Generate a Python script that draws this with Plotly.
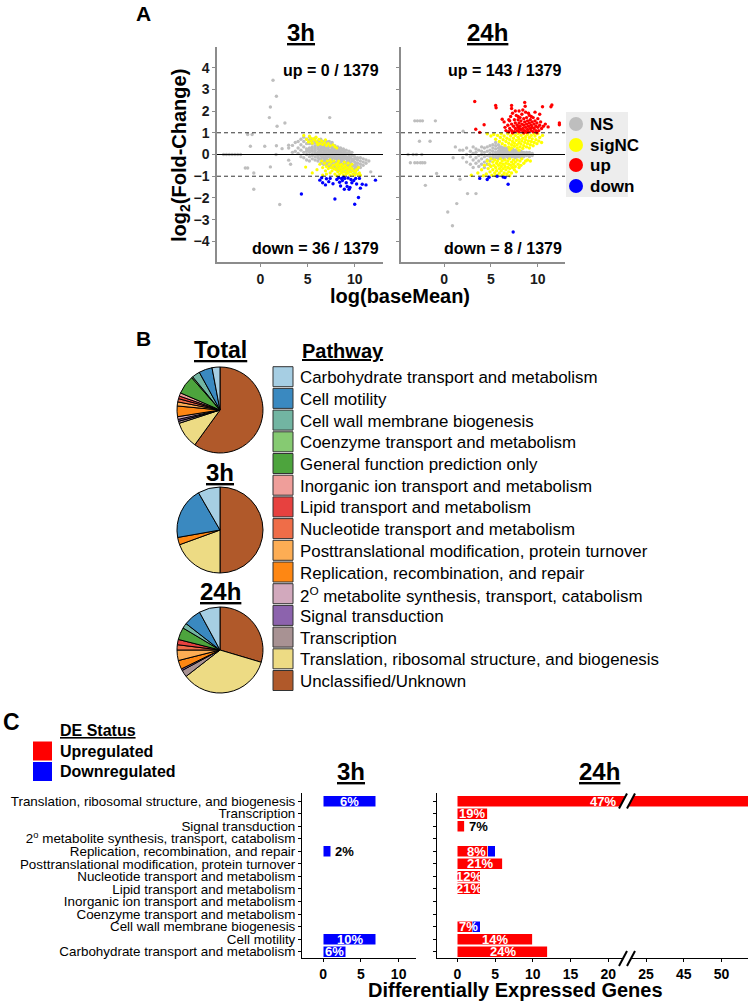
import plotly.graph_objects as go

W, H = 750, 1005
FONT = "Liberation Sans, Arial, sans-serif"


def PX(x):
    return x / W


def PY(y):
    return 1 - y / H


# ---------------- Panel A data (log(baseMean), log2 fold-change) ----------------
n_genes = 1379
up_3h_n, down_3h_n = 0, 36
up_24h_n, down_24h_n = 143, 8

ns3_cloud = {
    3.0: [-0.26, 0.3], 3.4: [0.42, 0.1], 3.7: [0.15, 0.55], 4.0: [0.05, 0.3, 0.6],
    4.3: [-0.1, 0.2, 0.45, 0.7], 4.6: [-0.15, 0.1, 0.35, 0.6, 0.8],
    4.9: [-0.25, 0.0, 0.15, 0.25, 0.5, 0.7],
    5.2: [-0.3, -0.1, 0.1, 0.2, 0.3, 0.5, 0.65, 0.8],
    5.5: [-0.2, -0.05, 0.0, 0.15, 0.25, 0.35, 0.5, 0.6, 0.7],
    5.8: [-0.25, -0.1, 0.05, 0.1, 0.2, 0.3, 0.4, 0.55, 0.75],
    6.1: [-0.3, -0.15, -0.05, 0.0, 0.05, 0.1, 0.25, 0.35, 0.45, 0.6],
    6.25: [-0.2, 0.0, 0.2, 0.4, 0.55],
    6.4: [-0.4, -0.2, -0.05, 0.0, 0.1, 0.15, 0.2, 0.3, 0.45, 0.55, 0.7],
    6.55: [-0.3, -0.1, 0.05, 0.25, 0.4, 0.6],
    6.7: [-0.45, -0.3, -0.15, -0.05, 0.0, 0.1, 0.2, 0.25, 0.35, 0.5, 0.6],
    6.85: [-0.4, -0.2, 0.0, 0.15, 0.3, 0.45],
    7.0: [-0.5, -0.35, -0.25, -0.2, -0.1, 0.0, 0.05, 0.1, 0.2, 0.3, 0.45, 0.6],
    7.15: [-0.45, -0.3, -0.1, 0.05, 0.25, 0.4, 0.55],
    7.3: [-0.55, -0.4, -0.25, -0.1, -0.05, 0.0, 0.1, 0.15, 0.2, 0.35, 0.5, 0.6],
    7.45: [-0.5, -0.3, -0.15, 0.0, 0.2, 0.4],
    7.6: [-0.6, -0.45, -0.3, -0.2, -0.15, -0.05, 0.05, 0.1, 0.15, 0.3, 0.45, 0.55],
    7.75: [-0.55, -0.35, -0.1, 0.05, 0.2, 0.35],
    7.9: [-0.65, -0.5, -0.35, -0.2, -0.1, -0.05, 0.0, 0.1, 0.15, 0.25, 0.4],
    8.05: [-0.6, -0.4, -0.2, 0.0, 0.15, 0.3],
    8.2: [-0.7, -0.5, -0.35, -0.25, -0.15, -0.1, 0.0, 0.05, 0.1, 0.2, 0.35],
    8.35: [-0.6, -0.45, -0.25, -0.05, 0.1, 0.25],
    8.5: [-0.75, -0.55, -0.4, -0.3, -0.2, -0.15, -0.05, 0.05, 0.15, 0.3],
    8.65: [-0.65, -0.5, -0.3, -0.1, 0.05, 0.2],
    8.8: [-0.8, -0.6, -0.45, -0.3, -0.2, -0.1, 0.0, 0.1, 0.25],
    8.95: [-0.7, -0.5, -0.35, -0.15, 0.0, 0.15],
    9.1: [-0.85, -0.6, -0.45, -0.35, -0.2, -0.1, 0.05, 0.2],
    9.25: [-0.7, -0.55, -0.3, -0.15, 0.05],
    9.4: [-0.8, -0.65, -0.5, -0.35, -0.25, -0.1, 0.0, 0.15],
    9.55: [-0.7, -0.4, -0.15, 0.05],
    9.7: [-0.75, -0.6, -0.45, -0.3, -0.2, -0.05, 0.1],
    9.85: [-0.7, -0.5, -0.25, -0.05],
    10.0: [-0.85, -0.65, -0.5, -0.35, -0.2, -0.1],
    10.15: [-0.6, -0.4, -0.2],
    10.3: [-0.7, -0.55, -0.4, -0.25, -0.15],
    10.6: [-0.6, -0.45, -0.3, -0.15],
    10.9: [-0.5, -0.35, -0.2], 11.2: [-0.4, -0.25], 11.5: [-0.3], 11.7: [-0.8],
}
ns3_outliers = [
    (1.34, 3.42), (1.7, 2.68), (1.06, 2.19), (0.95, 1.7), (1.77, 1.3), (2.6, 1.45),
    (7.35, 1.7), (-1.35, 0.92), (-0.88, 0.92), (-3.9, 0.0), (-3.6, 0.0), (-3.3, 0.0),
    (-3.0, 0.0), (-2.7, 0.0), (-2.4, 0.0), (-2.1, 0.0), (-1.6, -0.62), (-1.35, -0.62),
    (-0.7, -0.85), (-0.7, -1.6), (2.05, -2.3), (-1.06, 0.38), (0.46, 0.38),
    (1.06, -0.57), (1.7, 0.4), (2.3, 0.27), (3.0, 0.43), (1.66, 0.0), (3.2, -0.45),
]
sig3 = [
    (4.6, 0.88), (4.9, 0.7), (5.1, 0.58), (5.3, 0.77), (5.4, 0.62), (5.6, 0.72),
    (5.8, 0.66), (5.9, 0.8), (6.0, 0.56), (6.2, 0.7), (6.3, 0.5), (6.5, 0.62),
    (6.6, 0.46), (6.8, 0.55), (7.0, 0.42), (7.2, 0.5), (7.4, 0.4), (7.7, 0.45),
    (5.5, 0.52), (6.1, 0.45), (6.9, 0.68), (5.2, 0.85), (7.9, 0.36), (8.1, 0.3),
    (4.8, -0.58), (5.5, -0.85), (6.0, -0.7), (6.3, -0.45), (6.5, -0.3), (6.6, -0.6),
    (6.8, -0.4), (6.9, -0.75), (7.0, -0.55), (7.1, -0.3), (7.2, -0.65), (7.3, -0.45),
    (7.4, -0.85), (7.5, -0.35), (7.5, -0.6), (7.6, -0.75), (7.7, -0.5), (7.8, -0.3),
    (7.8, -0.65), (7.9, -0.9), (8.0, -0.45), (8.0, -0.7), (8.1, -0.55), (8.2, -0.8),
    (8.2, -0.4), (8.3, -0.65), (8.4, -0.5), (8.4, -0.9), (8.5, -0.75), (8.5, -0.6),
    (8.6, -0.45), (8.6, -0.85), (8.7, -0.7), (8.8, -0.55), (8.8, -0.95), (8.9, -0.8),
    (9.0, -0.65), (9.0, -0.5), (9.1, -0.9), (9.2, -0.75), (9.2, -0.6), (9.3, -0.85),
    (9.4, -0.7), (9.5, -0.95), (9.5, -0.55), (9.6, -0.8), (9.7, -0.65), (9.8, -0.9),
    (9.9, -0.75), (10.0, -0.95), (10.1, -0.8), (10.2, -0.7), (10.3, -0.9), (10.5, -0.85),
    (10.6, -0.95), (8.3, -0.3), (8.9, -0.35), (9.3, -0.4), (7.4, -0.25), (7.0, -0.9),
    (6.6, -0.95), (8.1, -0.98), (9.7, -0.45), (10.4, -0.6),
]
down3 = [
    (4.35, -1.82), (6.3, -1.18), (6.5, -1.07), (6.9, -1.4), (7.25, -1.25), (7.4, -1.1),
    (7.9, -2.05), (8.1, -1.15), (8.3, -1.07), (8.4, -1.28), (8.6, -1.1), (8.7, -1.2),
    (8.8, -1.05), (8.9, -1.6), (8.95, -1.1), (9.1, -1.3), (9.2, -1.47), (9.3, -1.08),
    (9.4, -1.6), (9.5, -1.52), (9.6, -1.15), (9.7, -1.3), (10.0, -2.29), (10.1, -1.1),
    (10.2, -1.36), (10.4, -1.98), (10.5, -1.1), (10.8, -1.37), (11.2, -1.4), (12.2, -1.18),
    (7.0, -1.12), (7.7, -1.35), (8.5, -1.45), (9.9, -1.2), (10.6, -1.55), (6.6, -1.3),
]

ns24_cloud = {
    2.0: [0.2, -0.15], 2.4: [0.0, -0.35, 0.3], 2.8: [-0.1, 0.15, -0.45],
    3.1: [-0.25, 0.05, 0.35, -0.6], 3.4: [-0.15, 0.1, -0.4, 0.25],
    3.7: [-0.3, -0.05, 0.2, -0.55], 4.0: [-0.2, 0.0, 0.15, -0.45, 0.35],
    4.3: [-0.35, -0.1, 0.1, 0.3, -0.6], 4.6: [-0.25, -0.05, 0.15, 0.35, -0.45],
    4.9: [-0.3, -0.1, 0.05, 0.2, 0.4, -0.5], 5.2: [-0.2, 0.0, 0.15, 0.3, 0.45, -0.1],
    5.5: [-0.15, 0.0, 0.1, 0.25, 0.4, 0.55, -0.05],
    5.8: [-0.1, 0.05, 0.15, 0.3, 0.45, 0.0, -0.2],
    5.95: [-0.05, 0.1, 0.2, 0.35],
    6.1: [-0.15, 0.0, 0.1, 0.2, 0.35, 0.05, -0.05, 0.25],
    6.25: [-0.1, 0.05, 0.15, 0.3],
    6.4: [-0.1, 0.0, 0.1, 0.2, 0.3, 0.15, -0.2, 0.05],
    6.55: [-0.05, 0.05, 0.2, 0.25],
    6.7: [-0.1, 0.0, 0.1, 0.2, 0.3, -0.05, 0.15, 0.05],
    6.85: [-0.15, 0.0, 0.1, 0.25],
    7.0: [-0.1, 0.0, 0.1, 0.2, 0.25, -0.05, 0.15, 0.05],
    7.15: [-0.1, 0.05, 0.15, 0.2],
    7.3: [-0.1, 0.0, 0.1, 0.2, -0.05, 0.15, 0.05, 0.25],
    7.45: [-0.05, 0.05, 0.1, 0.2],
    7.6: [-0.15, -0.05, 0.05, 0.15, 0.2, 0.0, 0.1],
    7.75: [-0.1, 0.0, 0.1, 0.15],
    7.9: [-0.1, 0.0, 0.1, 0.15, -0.05, 0.05],
    8.05: [-0.05, 0.05, 0.1],
    8.2: [-0.15, -0.05, 0.05, 0.15, 0.0, 0.1],
    8.35: [-0.1, 0.0, 0.1],
    8.5: [-0.1, 0.0, 0.1, 0.05, -0.05],
    8.8: [-0.05, 0.05, 0.1, 0.0], 9.1: [-0.1, 0.0, 0.1], 9.4: [0.05, -0.05],
}
ns24_outliers = [
    (-3.13, 1.55), (-2.85, 1.55), (-2.56, 1.55), (-2.31, 1.55), (-0.93, 1.55),
    (-2.63, 0.61), (-1.5, 0.61), (-3.84, 0.0), (-3.3, 0.0), (-2.95, 0.0), (-2.38, 0.0),
    (-3.6, -0.38), (-3.13, -0.38), (-2.85, -0.38), (-2.53, -0.38), (-2.31, -0.38),
    (-2.06, -0.38), (-0.8, -0.87), (-2.0, -1.42), (2.03, 1.07), (1.67, 0.2),
    (0.96, -0.15), (1.7, -1.14), (2.5, -1.8), (3.4, -1.8), (1.35, -2.26),
    (0.39, -2.65), (0.89, -3.28), (1.2, 0.35),
]
sig24 = [
    (4.6, 0.95), (5.0, 0.85), (5.3, 0.92), (5.5, 0.7), (5.7, 0.88), (5.9, 0.6),
    (6.0, 0.78), (6.1, 0.95), (6.2, 0.5), (6.3, 0.68), (6.4, 0.85), (6.5, 0.42),
    (6.6, 0.6), (6.7, 0.75), (6.8, 0.95), (6.9, 0.35), (6.9, 0.52), (7.0, 0.68),
    (7.1, 0.85), (7.2, 0.3), (7.2, 0.45), (7.3, 0.6), (7.3, 0.95), (7.4, 0.75),
    (7.5, 0.38), (7.5, 0.52), (7.6, 0.88), (7.7, 0.65), (7.8, 0.3), (7.8, 0.45),
    (7.9, 0.8), (7.9, 0.97), (8.0, 0.55), (8.0, 0.7), (8.1, 0.35), (8.2, 0.88),
    (8.2, 0.48), (8.3, 0.62), (8.4, 0.75), (8.4, 0.28), (8.5, 0.95), (8.5, 0.4),
    (8.6, 0.55), (8.7, 0.82), (8.7, 0.68), (8.8, 0.35), (8.9, 0.5), (8.9, 0.92),
    (9.0, 0.62), (9.1, 0.78), (9.1, 0.3), (9.2, 0.45), (9.3, 0.88), (9.3, 0.6),
    (9.4, 0.72), (9.5, 0.4), (9.6, 0.55), (9.7, 0.85), (9.8, 0.68), (9.9, 0.5),
    (10.0, 0.95), (10.1, 0.62), (10.2, 0.78), (10.4, 0.55), (10.5, 0.88), (9.6, 0.97),
    (8.0, 0.2), (7.0, 0.22),
    (2.9, -0.95), (3.6, -0.85), (4.0, -0.7), (4.3, -0.5), (4.5, -0.9), (4.6, -0.3),
    (4.7, -0.65), (4.8, -0.45), (4.9, -0.8), (5.0, -0.2), (5.0, -0.55), (5.1, -0.95),
    (5.2, -0.35), (5.2, -0.7), (5.3, -0.5), (5.4, -0.85), (5.4, -0.25), (5.5, -0.6),
    (5.6, -0.4), (5.6, -0.75), (5.7, -0.95), (5.7, -0.3), (5.8, -0.5), (5.9, -0.65),
    (5.9, -0.85), (6.0, -0.2), (6.0, -0.4), (6.1, -0.55), (6.1, -0.75), (6.2, -0.95),
    (6.2, -0.3), (6.3, -0.65), (6.3, -0.45), (6.4, -0.85), (6.5, -0.25), (6.5, -0.55),
    (6.6, -0.7), (6.6, -0.4), (6.7, -0.9), (6.8, -0.3), (6.8, -0.6), (6.9, -0.45),
    (6.9, -0.8), (7.0, -0.2), (7.0, -0.65), (7.1, -0.5), (7.2, -0.35), (7.2, -0.85),
    (7.3, -0.6), (7.4, -0.25), (7.4, -0.45), (7.5, -0.7), (7.6, -0.35), (7.6, -0.55),
    (7.7, -0.8), (7.8, -0.25), (7.9, -0.45), (8.0, -0.6), (8.1, -0.3), (8.2, -0.5),
    (8.3, -0.2), (8.5, -0.4), (8.7, -0.3), (8.9, -0.25), (9.2, -0.3), (6.4, -0.98),
    (5.5, -0.98), (7.0, -0.98), (4.2, -0.98),
]
up24 = [
    (3.27, 2.44), (3.38, 1.16), (3.8, 1.02), (4.27, 1.37), (5.5, 2.26), (5.55, 2.15),
    (7.2, 2.26), (7.2, 2.12), (8.6, 2.4), (8.65, 2.22), (10.5, 2.2), (11.4, 2.2),
    (11.5, 2.28), (12.3, 1.37), (12.3, 1.45), (11.1, 1.27),
    (6.2, 1.62), (6.4, 1.5), (6.5, 1.25), (6.6, 1.1), (6.8, 1.35), (6.9, 1.05),
    (7.0, 1.2), (7.0, 1.55), (7.1, 1.75), (7.2, 1.4), (7.2, 1.1), (7.3, 1.9),
    (7.4, 1.3), (7.5, 1.6), (7.5, 1.05), (7.6, 1.45), (7.6, 1.2), (7.7, 1.8),
    (7.8, 1.35), (7.8, 1.1), (7.9, 1.6), (7.9, 1.25), (8.0, 2.0), (8.0, 1.45),
    (8.0, 1.05), (8.1, 1.7), (8.1, 1.3), (8.2, 1.15), (8.2, 1.55), (8.3, 1.85),
    (8.3, 1.4), (8.4, 1.2), (8.4, 1.05), (8.5, 1.65), (8.5, 1.35), (8.6, 1.5),
    (8.6, 1.1), (8.7, 1.95), (8.7, 1.25), (8.8, 1.4), (8.8, 1.7), (8.9, 1.15),
    (8.9, 1.55), (9.0, 1.3), (9.0, 1.05), (9.1, 1.8), (9.1, 1.45), (9.2, 1.2),
    (9.2, 1.6), (9.3, 1.35), (9.3, 1.1), (9.4, 1.5), (9.4, 1.25), (9.5, 1.7),
    (9.5, 1.05), (9.6, 1.4), (9.6, 1.2), (9.7, 1.55), (9.8, 1.3), (9.8, 1.1),
    (9.9, 1.45), (10.0, 1.25), (10.0, 1.65), (10.1, 1.1), (10.2, 1.35), (10.3, 1.5),
    (10.4, 1.2), (10.6, 1.3), (10.8, 1.4), (9.0, 1.9), (8.4, 2.05), (7.6, 2.0),
    (6.9, 1.6), (10.2, 1.85), (9.7, 1.95), (8.0, 1.2), (8.5, 1.0), (7.3, 1.0),
    (9.9, 1.0), (8.8, 1.02), (7.9, 1.75), (9.3, 1.75),
]
down24 = [
    (3.8, -1.1), (4.6, -1.15), (4.8, -1.05), (5.66, -1.0), (6.3, -1.04), (6.5, -1.06),
    (6.83, -1.37), (7.37, -3.57),
]

# ---------------- Panel B data ----------------
pathways = [
    "Carbohydrate transport and metabolism", "Cell motility",
    "Cell wall membrane biogenesis", "Coenzyme transport and metabolism",
    "General function prediction only", "Inorganic ion transport and metabolism",
    "Lipid transport and metabolism", "Nucleotide transport and metabolism",
    "Posttranslational modification, protein turnover",
    "Replication, recombination, and repair",
    "2<sup>O</sup> metabolite synthesis, transport, catabolism",
    "Signal transduction", "Transcription",
    "Translation, ribosomal structure, and biogenesis", "Unclassified/Unknown",
]
pathway_colors = [
    "#A6CEE3", "#3A89C0", "#72B5A2", "#86CA72", "#4DA43D", "#EF9E9A", "#E7413F",
    "#EF6D48", "#FDAD54", "#FE8713", "#D2A9BD", "#8C63AD", "#A89293", "#EDDB84",
    "#B0592A",
]
pie_total = [41, 69, 41, 7, 97, 17, 14, 17, 21, 55, 14, 10, 11, 138, 827]
pie_3h = [3, 7, 0, 0, 0, 0, 0, 0, 0, 1, 0, 0, 0, 7, 18]
pie_24h = [12, 10, 3, 0, 7, 0, 3, 3, 6, 5, 0, 1, 4, 53, 45]

# ---------------- Panel C data ----------------
cats_c = [
    "Translation, ribosomal structure, and biogenesis", "Transcription",
    "Signal transduction", "2<sup>o</sup> metabolite synthesis, transport, catabolism",
    "Replication, recombination, and repair",
    "Posttranslational modification, protein turnover",
    "Nucleotide transport and metabolism", "Lipid transport and metabolism",
    "Inorganic ion transport and metabolism", "Coenzyme transport and metabolism",
    "Cell wall membrane biogenesis", "Cell motility",
    "Carbohydrate transport and metabolism",
]
down_c3h = [7, 0, 0, 0, 1, 0, 0, 0, 0, 0, 0, 7, 3]
pct_c3h = ["6%", "", "", "", "2%", "", "", "", "", "", "", "10%", "6%"]
up_c24h = [53.5, 4, 1, 0, 4, 6, 3, 3, 0, 0, 2, 10, 12]
down_c24h = [0, 0, 0, 0, 1, 0, 0, 0, 0, 0, 1, 0, 0]
pct_c24h = ["47%", "19%", "7%", "", "8%", "21%", "12%", "21%", "", "", "7%", "14%", "24%"]
ticks_c24h_pos = [0, 5, 10, 15, 20, 25, 30, 35]
ticks_c24h_text = ["0", "5", "10", "15", "20", "25", "45", "50"]
BREAK_AT, BREAK_GAP = 22, 15


def brk(v):
    return v if v <= BREAK_AT else v - BREAK_GAP


# ======================= build figure =======================
fig = go.Figure()


def add_pts(pts, color, size, xa, ya):
    fig.add_trace(go.Scatter(
        x=[p[0] for p in pts], y=[p[1] for p in pts], mode="markers",
        marker=dict(color=color, size=size, line=dict(width=0)),
        xaxis=xa, yaxis=ya, hoverinfo="skip", showlegend=False))


def cloud(d):
    return [(x, y) for x, ys in d.items() for y in ys]


GRAY = "#BEBEBE"
add_pts(cloud(ns3_cloud) + ns3_outliers, GRAY, 3.4, "x", "y")
add_pts(sig3, "#FFFF00", 3.2, "x", "y")
add_pts(down3, "#0000FF", 3.4, "x", "y")
add_pts(cloud(ns24_cloud) + ns24_outliers, GRAY, 3.4, "x2", "y2")
add_pts(sig24, "#FFFF00", 3.4, "x2", "y2")
add_pts(up24, "#FF0000", 3.4, "x2", "y2")
add_pts(down24, "#0000FF", 3.4, "x2", "y2")

# pies (clockwise from 12 o'clock, reversed legend order)
for vals, cy in [(pie_total, 410), (pie_3h, 530), (pie_24h, 650)]:
    labs, vs, cols = [], [], []
    for lab, v, c in zip(pathways[::-1], vals[::-1], pathway_colors[::-1]):
        if v > 0:
            labs.append(lab)
            vs.append(v)
            cols.append(c)
    fig.add_trace(go.Pie(
        labels=labs, values=vs, sort=False, direction="clockwise", rotation=0,
        marker=dict(colors=cols, line=dict(color="black", width=1)),
        textinfo="none", hoverinfo="skip", showlegend=False,
        domain=dict(x=[PX(177), PX(263)], y=[PY(cy + 43), PY(cy - 43)])))

# bars panel C
BW = 0.88
fig.add_trace(go.Bar(orientation="h", x=down_c3h, y=cats_c, width=BW,
                     marker=dict(color="#0000FF", line=dict(color="white", width=0.5)),
                     xaxis="x3", yaxis="y3", hoverinfo="skip", showlegend=False))
fig.add_trace(go.Bar(orientation="h", x=[brk(v) for v in up_c24h], y=cats_c, width=BW,
                     marker=dict(color="#FF0000", line=dict(color="white", width=0.5)),
                     xaxis="x4", yaxis="y4", hoverinfo="skip", showlegend=False))
fig.add_trace(go.Bar(orientation="h", x=down_c24h, y=cats_c, width=BW,
                     marker=dict(color="#0000FF", line=dict(color="white", width=0.5)),
                     xaxis="x4", yaxis="y4", hoverinfo="skip", showlegend=False))

annotations = []
shapes = []


def ann(text, x, y, size, bold=False, xanchor="center", yanchor="middle",
        color="black", angle=0, xref="paper", yref="paper", raw=False):
    annotations.append(dict(
        text=text, x=x if raw else PX(x), y=y if raw else PY(y), xref=xref, yref=yref,
        showarrow=False, xanchor=xanchor, yanchor=yanchor, textangle=angle,
        font=dict(size=size, color=color, family=FONT, weight="bold" if bold else "normal")))


# percentage labels
for cat, d, p in zip(cats_c, down_c3h, pct_c3h):
    if p:
        if d >= 2:
            ann(p, d / 2, cat, 13, True, color="white", xref="x3", yref="y3", raw=True)
        else:
            ann(p, d + 0.3, cat, 13, True, xanchor="left", xref="x3", yref="y3", raw=True)
for cat, u, d, p in zip(cats_c, up_c24h, down_c24h, pct_c24h):
    if p:
        tot = brk(u) + d
        if tot >= 2:
            ann(p, tot / 2, cat, 13, True, color="white", xref="x4", yref="y4", raw=True)
        else:
            ann(p, tot + 0.25, cat, 13, True, xanchor="left", xref="x4", yref="y4", raw=True)

# Panel A texts
ann("A", 143, 14, 21, True)
ann("<u>3h</u>", 301, 32, 24, True)
ann("<u>24h</u>", 488, 32, 24, True)
ann(f"up = {up_3h_n} / {n_genes}", 381, 71, 16, True, xanchor="right")
ann(f"down = {down_3h_n} / {n_genes}", 381, 248, 16, True, xanchor="right")
ann(f"up = {up_24h_n} / {n_genes}", 564, 71, 16, True, xanchor="right")
ann(f"down = {down_24h_n} / {n_genes}", 564, 248, 16, True, xanchor="right")
ann("log<sub>2</sub>(Fold-Change)", 180, 156, 20, True, angle=-90)
ann("log(baseMean)", 400, 296, 20, True)

# scatter legend
shapes.append(dict(type="rect", xref="paper", yref="paper", x0=PX(566), x1=PX(628),
                   y0=PY(197), y1=PY(112), fillcolor="#EDEDED", line=dict(width=0),
                   layer="below"))
for lab, col, cy in [("NS", GRAY, 124), ("sigNC", "#FFFF00", 145),
                     ("up", "#FF0000", 165), ("down", "#0000FF", 186)]:
    shapes.append(dict(type="circle", xref="paper", yref="paper", x0=PX(569), x1=PX(583),
                       y0=PY(cy + 7), y1=PY(cy - 7), fillcolor=col, line=dict(width=0)))
    ann(lab, 588, cy, 17, True, xanchor="left")

# Panel B texts
ann("B", 143, 338, 21, True)
ann("<u>Total</u>", 220, 350, 23, True)
ann("<u>3h</u>", 220, 472, 24, True)
ann("<u>24h</u>", 220, 591, 24, True)
ann("<u>Pathway</u>", 300, 351, 20, True, xanchor="left")
for i, (lab, col) in enumerate(zip(pathways, pathway_colors)):
    cy = 376.7 + i * 21.7
    shapes.append(dict(type="rect", xref="paper", yref="paper", x0=PX(273), x1=PX(293),
                       y0=PY(cy + 10), y1=PY(cy - 10), fillcolor=col,
                       line=dict(color="#333333", width=1)))
    ann(lab, 298, cy + 1, 16.9, xanchor="left")

# Panel C texts
ann("C", 11, 722, 23, True)
ann("<u>DE Status</u>", 58, 730, 16, True, xanchor="left")
for lab, col, cy in [("Upregulated", "#FF0000", 751), ("Downregulated", "#0000FF", 771.5)]:
    shapes.append(dict(type="rect", xref="paper", yref="paper", x0=PX(33), x1=PX(52),
                       y0=PY(cy + 9.5), y1=PY(cy - 9.5), fillcolor=col, line=dict(width=0)))
    ann(lab, 58, cy, 16, True, xanchor="left")
ann("<u>3h</u>", 351, 771, 24, True)
ann("<u>24h</u>", 599, 771, 24, True)
ann("Differentially Expressed Genes", 515, 990, 20, True)

# panel A reference lines
for xr, yr in [("x", "y"), ("x2", "y2")]:
    shapes.append(dict(type="line", xref=f"{xr} domain", yref=yr, x0=0, x1=1, y0=0, y1=0,
                       line=dict(color="black", width=1)))
    for yv in (1, -1):
        shapes.append(dict(type="line", xref=f"{xr} domain", yref=yr, x0=0, x1=1,
                           y0=yv, y1=yv, line=dict(color="black", width=0.8, dash="4px,3px")))


# axis breaks on 24h bar panel
def break_mark(yc, half):
    top, bot = yc - half, yc + half
    shapes.append(dict(type="path", xref="paper", yref="paper",
                       path=f"M {PX(619)} {PY(bot)} L {PX(627)} {PY(top)} L {PX(635)} {PY(top)} L {PX(627)} {PY(bot)} Z",
                       fillcolor="white", line=dict(width=0)))
    for x0 in (619, 627):
        shapes.append(dict(type="line", xref="paper", yref="paper", x0=PX(x0), x1=PX(x0 + 8),
                           y0=PY(bot), y1=PY(top), line=dict(color="black", width=2)))


break_mark(801, 7.5)
break_mark(958.5, 7.5)

axA = dict(showgrid=False, zeroline=False, showline=True, linecolor="#8C8C8C", linewidth=1.5,
           ticks="outside", ticklen=3, tickcolor="#8C8C8C",
           tickfont=dict(size=14, family=FONT, color="#1a1a1a", weight="bold"))
axC = dict(showgrid=False, zeroline=False, showline=True, linecolor="black", linewidth=1,
           ticks="outside", ticklen=3, tickcolor="black")
xtickC = dict(size=14, family=FONT, color="black", weight="bold")

fig.update_layout(
    width=W, height=H, margin=dict(l=0, r=0, t=0, b=0),
    paper_bgcolor="white", plot_bgcolor="white", showlegend=False,
    barmode="stack", font=dict(family=FONT),
    xaxis=dict(axA, domain=[PX(217), PX(383)], range=[-4.6, 13.0], tickvals=[0, 5, 10], anchor="y"),
    yaxis=dict(axA, domain=[PY(262), PY(47)], range=[-4.95, 4.95],
               tickvals=[-4, -3, -2, -1, 0, 1, 2, 3, 4], anchor="x"),
    xaxis2=dict(axA, domain=[PX(401), PX(565)], range=[-4.6, 12.9], tickvals=[0, 5, 10], anchor="y2"),
    yaxis2=dict(axA, domain=[PY(262), PY(47)], range=[-4.95, 4.95],
                tickvals=[-4, -3, -2, -1, 0, 1, 2, 3, 4], showticklabels=False, anchor="x2"),
    xaxis3=dict(axC, domain=[PX(302), PX(416)], range=[-2.8, 12.3], tickvals=[0, 5, 10],
                tickfont=xtickC, anchor="y3"),
    yaxis3=dict(axC, domain=[PY(958), PY(793)], type="category", categoryorder="array",
                categoryarray=cats_c[::-1], range=[-0.5, 12.64], tickmode="array",
                tickvals=cats_c, tickfont=dict(size=13.4, family=FONT, color="black"),
                anchor="x3"),
    xaxis4=dict(axC, domain=[PX(437), PX(748)], range=[-2.7, 38.5], tickvals=ticks_c24h_pos,
                ticktext=ticks_c24h_text, tickfont=xtickC, anchor="y4"),
    yaxis4=dict(axC, domain=[PY(958), PY(793)], type="category", categoryorder="array",
                categoryarray=cats_c[::-1], range=[-0.5, 12.64], tickmode="array",
                tickvals=cats_c, showticklabels=False, anchor="x4"),
    annotations=annotations, shapes=shapes,
)

# remove the page's default 8px body margin so the 750x1005 figure fills the window
fig.write_html("out.html", config={"displayModeBar": False},
               post_script="document.body.style.margin='0';document.body.style.overflow='hidden';")
